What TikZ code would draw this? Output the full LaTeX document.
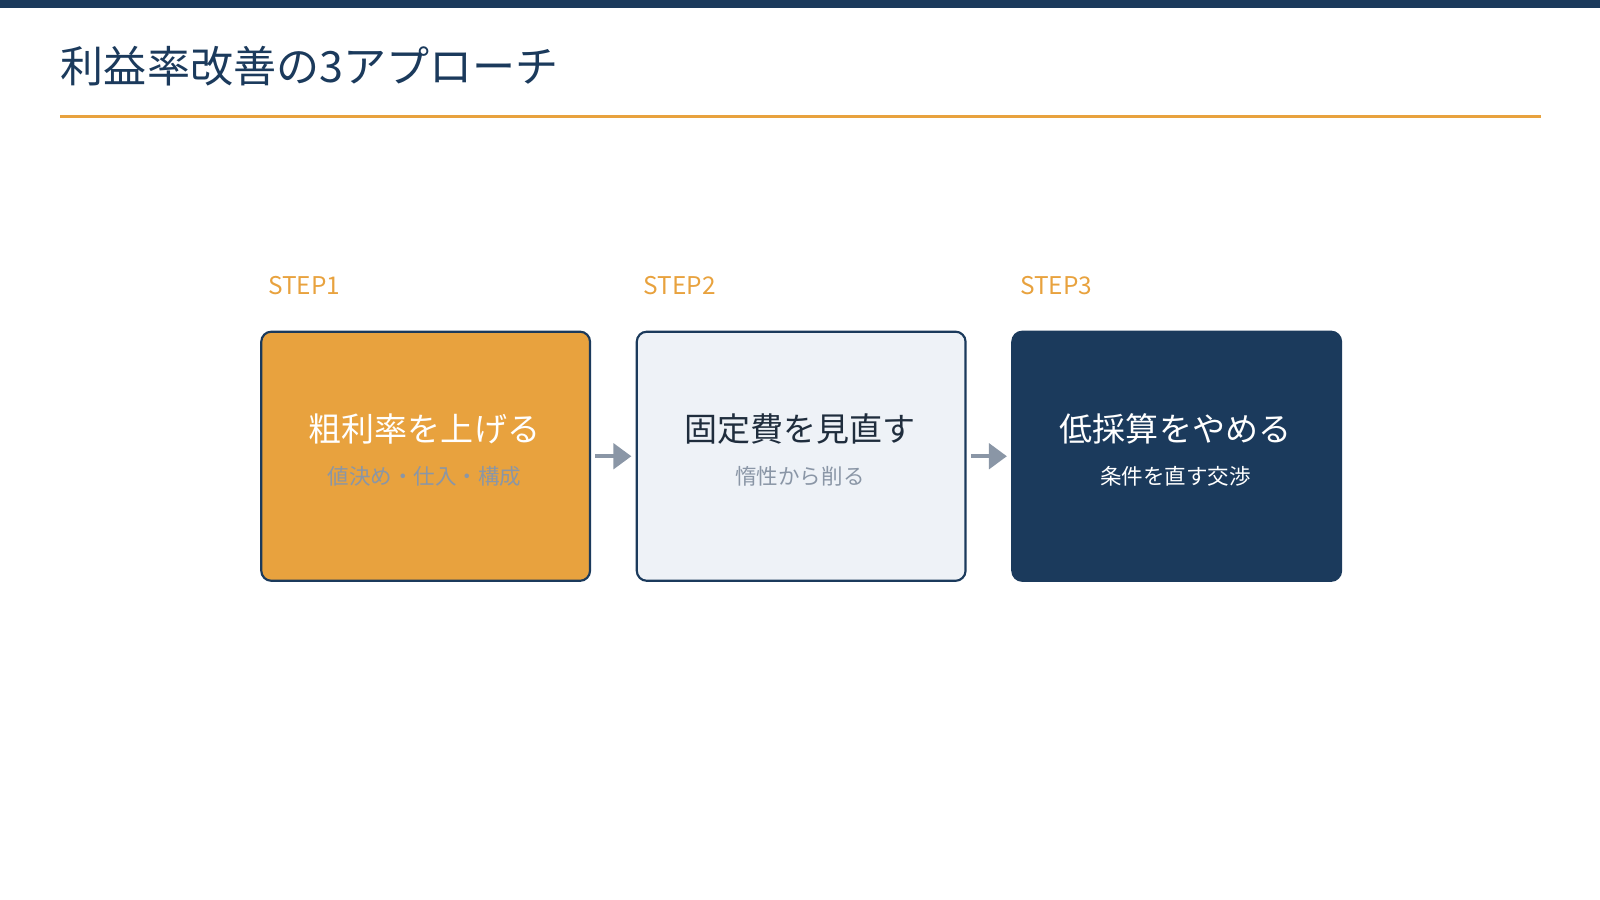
\documentclass[tikz,border=0pt]{standalone}
\usepackage{fontspec}
\setmainfont{Noto Sans CJK JP}
\usetikzlibrary{arrows.meta,positioning}
\tikzset{>={Triangle[length=5pt,width=7pt]}}
\definecolor{navy}{HTML}{1B3A5C}
\definecolor{ora}{HTML}{E8A23E}
\definecolor{pale}{HTML}{EEF2F7}
\definecolor{grey}{HTML}{8A96A6}
\definecolor{ink}{HTML}{1F2D3D}
\tikzset{
    card/.style={rounded corners=2.8pt, draw=navy, line width=.6pt, minimum width=3.22cm, minimum height=2.44cm, anchor=north west},
    steplabel/.style={anchor=west, text=ora, font=\fontsize{6.8}{8}\selectfont, inner sep=0pt},
    maintxt/.style={font=\fontsize{9.2}{11}\selectfont, inner sep=0pt},
    subtxt/.style={font=\fontsize{6}{7}\selectfont, inner sep=0pt},
    flow/.style={->, draw=grey, line width=1.2pt, shorten <=1.2pt, shorten >=1.2pt}
}
\begin{document}
\begin{tikzpicture}[x=.01cm, y=-.01cm]
    \useasboundingbox (0, 0) rectangle (1568, 882);
    \fill[navy](0, 0)rectangle(1568, 8);
    \node[anchor=west, text=navy, font=\fontsize{12}{14}\selectfont, inner sep=0pt] (title) at (59, 65) {利益率改善の3アプローチ};
    \draw[ora, line width=.9pt](59, 114)--(1510, 114);
    % steps
    \node[steplabel] (lab1) at (262, 280) {STEP1};
    \node[steplabel] (lab2) at (630, 280) {STEP2};
    \node[steplabel] (lab3) at (999, 280) {STEP3};
    \node[card, fill=ora] (box1) at (255, 324) {};
    \node[card, fill=pale] (box2) at (623, 324) {};
    \node[card, fill=navy] (box3) at (991, 324) {};
    \node[maintxt, text=white] (m1) at (416, 420) {粗利率を上げる};
    \node[subtxt, text=grey] (s1) at (416, 467) {値決め・仕入・構成};
    \node[maintxt, text=ink] (m2) at (784, 420) {固定費を見直す};
    \node[subtxt, text=grey] (s2) at (784, 467) {惰性から削る};
    \node[maintxt, text=white] (m3) at (1152, 420) {低採算をやめる};
    \node[subtxt, text=white] (s3) at (1152, 467) {条件を直す交渉};
    \draw[flow](box1.east)--(box2.west);
    \draw[flow](box2.east)--(box3.west);
\end{tikzpicture}
\end{document}
